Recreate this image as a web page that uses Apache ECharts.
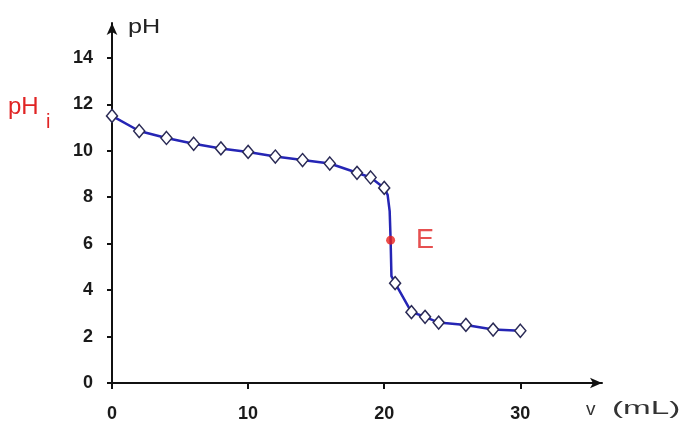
<!DOCTYPE html>
<html lang="fr">
<head>
    <meta charset="UTF-8">
    <title>Courbe de titrage pH</title>
    <script src="https://cdn.jsdelivr.net/npm/echarts@6/dist/echarts.min.js"></script>
    <style>
        html, body { margin: 0; padding: 0; background: #fff; }
        #main { width: 685px; height: 425px; }
    </style>
</head>
<body>
<div id="main"></div>
<script type="text/javascript">
    // volume versé (mL) et pH mesuré ; les points sans losange suivent le saut de pH
    var volumes = [0, 2, 4, 6, 8, 10, 12, 14, 16, 18, 19, 20, 20.25, 20.4, 20.47, 20.53, 20.8, 22, 23, 24, 26, 28, 30];
    var phValues = [11.5, 10.85, 10.55, 10.3, 10.1, 9.95, 9.75, 9.6, 9.45, 9.05, 8.85, 8.4, 8.1, 7.4, 6.15, 4.6, 4.3, 3.05, 2.85, 2.6, 2.5, 2.3, 2.25];
    var measured = [1, 1, 1, 1, 1, 1, 1, 1, 1, 1, 1, 1, 0, 0, 0, 0, 1, 1, 1, 1, 1, 1, 1];
    // point d'équivalence
    var eqVolume = [20.47];
    var eqPh = [6.15];
    var yTicks = [0, 2, 4, 6, 8, 10, 12, 14];
    var xTicks = [0, 10, 20, 30];

    var myChart = echarts.init(document.getElementById('main'));

    var curve = volumes.map(function (v, i) {
        return {
            value: [v, phValues[i]],
            symbol: measured[i] ? 'diamond' : 'none'
        };
    });

    var tickFont = {fontFamily: 'Liberation Sans', fontSize: 18, fontWeight: 'bold', color: '#1a1a1a'};
    var red = '#e02424';

    var option = {
        animation: false,
        grid: {left: 112, right: 83, top: 23, bottom: 42},
        xAxis: {
            type: 'value',
            min: 0,
            max: 36,
            splitLine: {show: false},
            axisLine: {
                onZero: false,
                symbol: ['none', 'arrow'],
                symbolSize: [8, 12],
                lineStyle: {color: '#111', width: 2}
            },
            axisTick: {customValues: xTicks, length: 6, lineStyle: {color: '#111', width: 2}},
            axisLabel: Object.assign({customValues: xTicks, margin: 22}, tickFont)
        },
        yAxis: {
            type: 'value',
            min: 0,
            max: 15.5,
            splitLine: {show: false},
            axisLine: {
                onZero: false,
                symbol: ['none', 'arrow'],
                symbolSize: [8, 12],
                lineStyle: {color: '#111', width: 2}
            },
            axisTick: {customValues: yTicks, length: 5, lineStyle: {color: '#111', width: 2}},
            axisLabel: Object.assign({customValues: yTicks, margin: 19}, tickFont)
        },
        graphic: [
            {
                type: 'text', x: 128, y: 17, scaleX: 1.2,
                style: {text: 'pH', fontFamily: 'Liberation Sans', fontSize: 21, fill: '#222', verticalAlign: 'top'}
            },
            {
                type: 'text', x: 586, y: 400,
                style: {text: 'v', fontFamily: 'Liberation Sans', fontSize: 19, fill: '#333', verticalAlign: 'top'}
            },
            {
                type: 'text', x: 612, y: 399, scaleX: 1.75,
                style: {text: '(mL)', fontFamily: 'Liberation Sans', fontSize: 19, fill: '#333', verticalAlign: 'top'}
            },
            {
                type: 'text', x: 8, y: 95,
                style: {text: 'pH', fontFamily: 'Liberation Sans', fontSize: 24, fill: red, verticalAlign: 'top'}
            },
            {
                type: 'text', x: 46, y: 112,
                style: {text: 'i', fontFamily: 'Liberation Sans', fontSize: 20, fill: red, verticalAlign: 'top'}
            }
        ],
        series: [
            {
                name: 'pH',
                type: 'line',
                data: curve,
                symbolSize: [11, 13],
                showAllSymbol: true,
                lineStyle: {color: '#2525b5', width: 2.5},
                itemStyle: {color: '#fff', borderColor: '#2a2a55', borderWidth: 1.5},
                z: 2
            },
            {
                name: 'E',
                type: 'scatter',
                data: eqVolume.map(function (v, i) { return [v, eqPh[i]]; }),
                symbol: 'circle',
                symbolSize: 9,
                itemStyle: {color: '#e8201c'},
                label: {
                    show: true,
                    formatter: 'E',
                    position: 'right',
                    distance: 21,
                    fontFamily: 'Liberation Sans',
                    fontSize: 27,
                    color: red
                },
                z: 3
            }
        ]
    };
    myChart.setOption(option);
</script>
</body>
</html>
